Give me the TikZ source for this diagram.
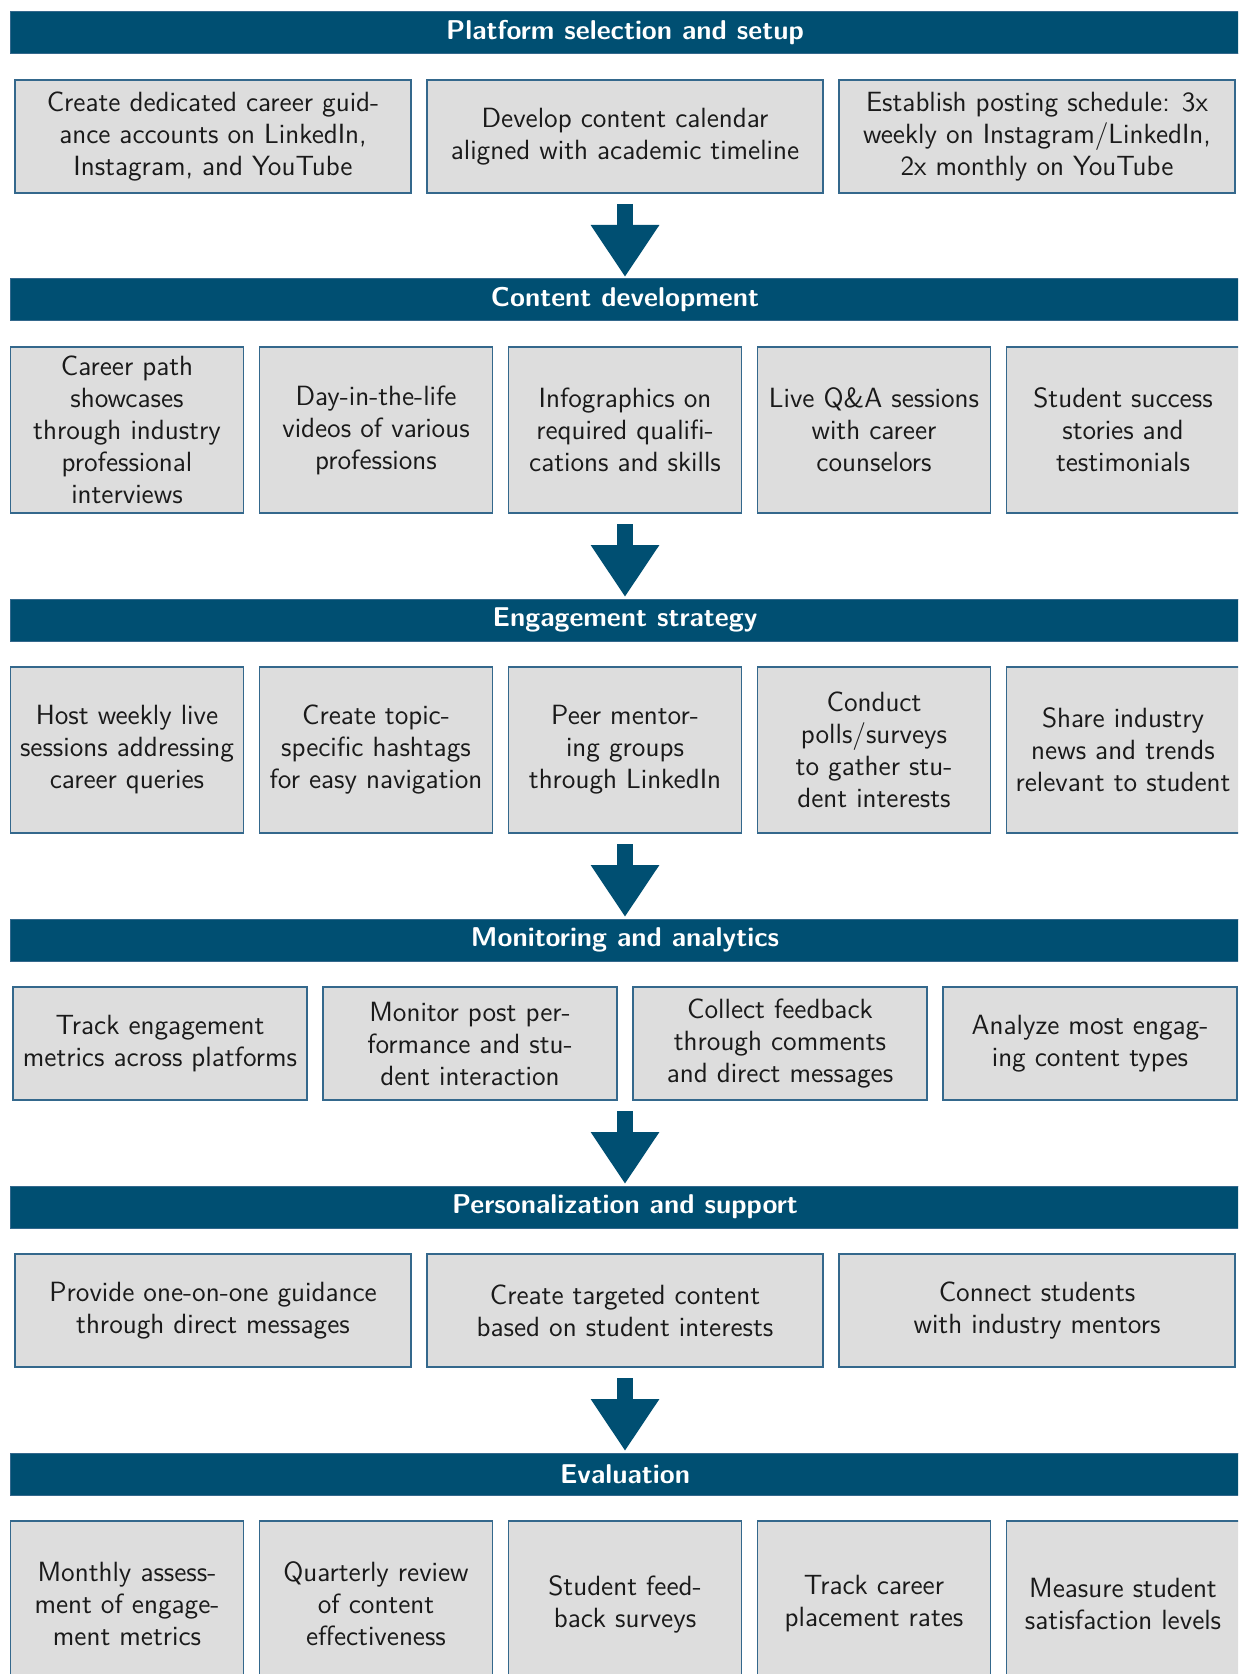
\documentclass[tikz,border=0pt]{standalone}
\usepackage{fontspec}
\usetikzlibrary{arrows.meta,positioning}

\definecolor{headblue}{RGB}{0,79,114}
\definecolor{cellgray}{RGB}{221,221,221}
\definecolor{cellline}{RGB}{52,104,140}
\definecolor{inkdark}{RGB}{26,26,26}

\begin{document}
\begin{tikzpicture}[x=1pt, y=1pt, node distance=8pt,
    font=\sffamily\fontsize{13.9}{16}\selectfont,
    head/.style={fill=headblue, draw=cellline, line width=0.5pt, inner sep=0pt,
      outer sep=0pt, minimum width=615pt, minimum height=21pt, text=white,
      font=\sffamily\bfseries\fontsize{13.6}{16}\selectfont},
    cell/.style={fill=cellgray, draw=cellline, line width=0.6pt, inner sep=0pt,
      outer sep=0pt, align=center, text=inkdark},
    third/.style={cell, minimum width=198pt},
    fourth/.style={cell, minimum width=147pt},
    fifth/.style={cell, minimum width=116.5pt},
    short/.style={minimum height=56.5pt},
    tall/.style={minimum height=83pt},
    flow/.style={draw=headblue, line width=8pt,
      -{Triangle[width=32.5pt, length=26pt]}, shorten <=5.5pt, shorten >=1pt}]
  \useasboundingbox (0,0) rectangle (619,-837);
  \clip (0,0) rectangle (619,-837);

  \node[head] (h1) at (312.5,-16.5) {Platform selection and setup};
  \node[third, short, below=13pt of h1] (r1b) {Develop content calendar\\aligned with academic timeline};
  \node[third, short, left=of r1b]  (r1a) {Create dedicated career guid-\\ance accounts on LinkedIn,\\Instagram, and YouTube};
  \node[third, short, right=of r1b] (r1c) {Establish posting schedule: 3x\\weekly on Instagram/LinkedIn,\\2x monthly on YouTube};

  \node[head, below=43pt of r1b] (h2) {Content development};
  \node[fifth, tall, below=13pt of h2] (r2c) {Infographics on\\required qualifi-\\cations and skills};
  \node[fifth, tall, left=of r2c]  (r2b) {Day-in-the-life\\videos of various\\professions};
  \node[fifth, tall, left=of r2b]  (r2a) {Career path\\showcases\\through industry\\professional\\interviews};
  \node[fifth, tall, right=of r2c] (r2d) {Live Q\&A sessions\\with career\\counselors};
  \node[fifth, tall, right=of r2d] (r2e) {Student success\\stories and\\testimonials};

  \node[head, below=43pt of r2c] (h3) {Engagement strategy};
  \node[fifth, tall, below=13pt of h3] (r3c) {Peer mentor-\\ing groups\\through LinkedIn};
  \node[fifth, tall, left=of r3c]  (r3b) {Create topic-\\specific hashtags\\for easy navigation};
  \node[fifth, tall, left=of r3b]  (r3a) {Host weekly live\\sessions addressing\\career queries};
  \node[fifth, tall, right=of r3c] (r3d) {Conduct\\polls/surveys\\to gather stu-\\dent interests};
  \node[fifth, tall, right=of r3d] (r3e) {Share industry\\news and trends\\relevant to student};

  \node[head, below=43pt of r3c] (h4) {Monitoring and analytics};
  \node[fourth, short, below left=13pt and 4pt of h4.south]  (r4b) {Monitor post per-\\formance and stu-\\dent interaction};
  \node[fourth, short, below right=13pt and 4pt of h4.south] (r4c) {Collect feedback\\through comments\\and direct messages};
  \node[fourth, short, left=of r4b]  (r4a) {Track engagement\\metrics across platforms};
  \node[fourth, short, right=of r4c] (r4d) {Analyze most engag-\\ing content types};

  \node[head, below=43pt of r4b.south east, xshift=4pt] (h5) {Personalization and support};
  \node[third, short, below=13pt of h5] (r5b) {Create targeted content\\based on student interests};
  \node[third, short, left=of r5b]  (r5a) {Provide one-on-one guidance\\through direct messages};
  \node[third, short, right=of r5b] (r5c) {Connect students\\with industry mentors};

  \node[head, below=43pt of r5b] (h6) {Evaluation};
  \node[fifth, tall, below=13pt of h6] (r6c) {Student feed-\\back surveys};
  \node[fifth, tall, left=of r6c]  (r6b) {Quarterly review\\of content\\effectiveness};
  \node[fifth, tall, left=of r6b]  (r6a) {Monthly assess-\\ment of engage-\\ment metrics};
  \node[fifth, tall, right=of r6c] (r6d) {Track career\\placement rates};
  \node[fifth, tall, right=of r6d] (r6e) {Measure student\\satisfaction levels};

  \foreach \r/\h in {r1a/h2, r2a/h3, r3a/h4, r4a/h5, r5a/h6}
    \draw[flow] (\h.north |- \r.south) -- (\h.north);
\end{tikzpicture}
\end{document}
